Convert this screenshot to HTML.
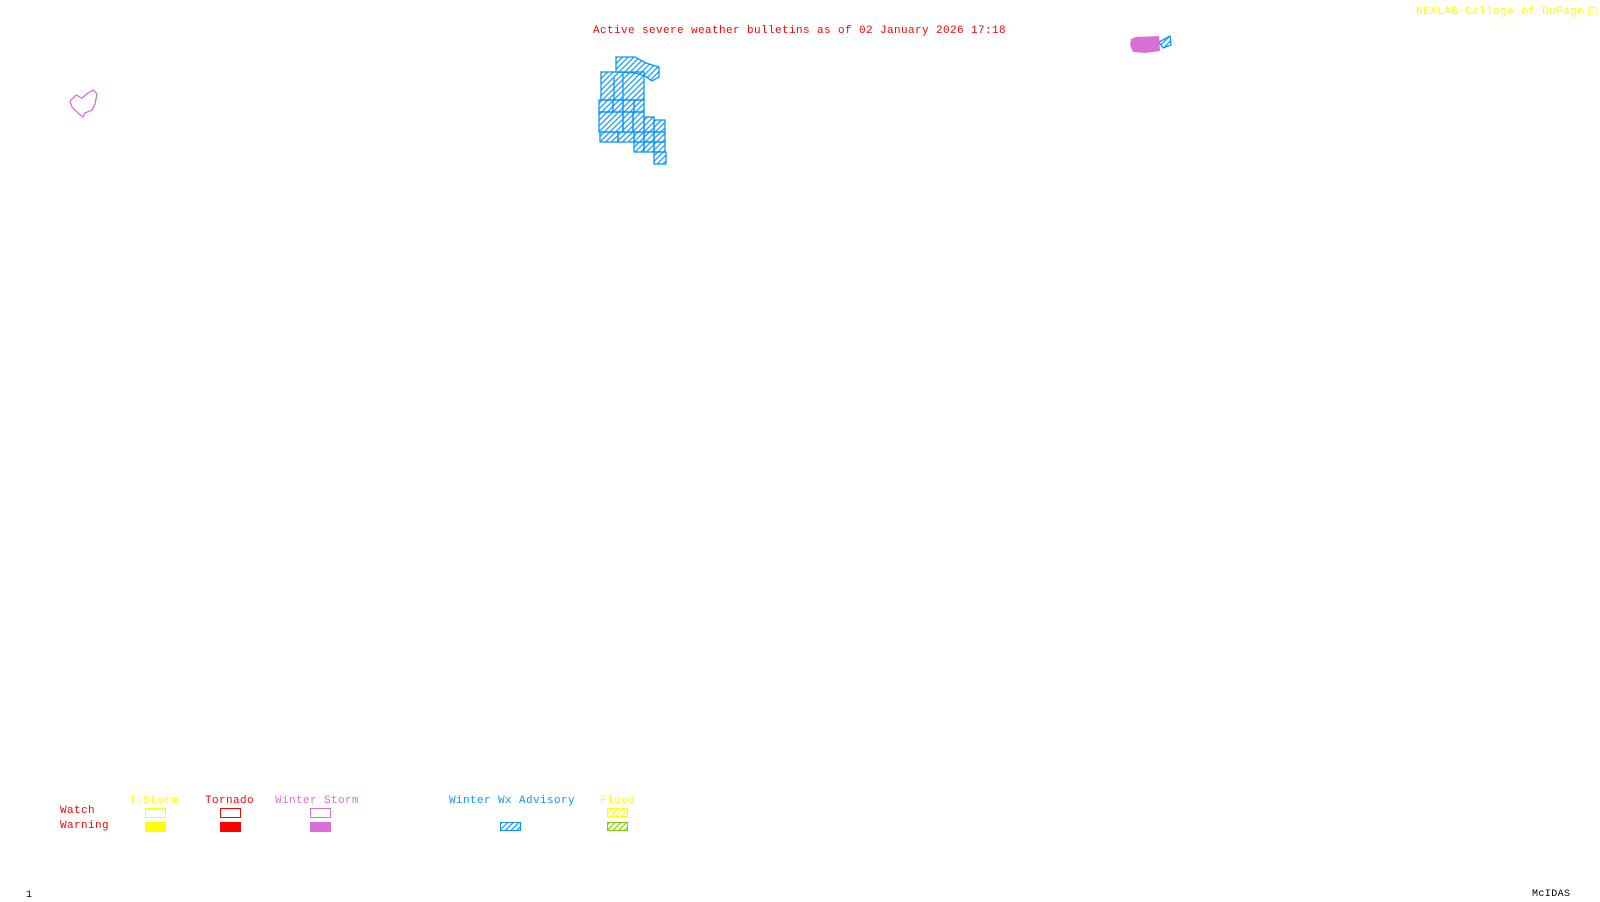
<!DOCTYPE html>
<html><head><meta charset="utf-8"><style>
body{margin:0;width:1600px;height:900px;background:#fff;position:relative;overflow:hidden;font-family:"Liberation Mono",monospace;font-size:11px;letter-spacing:0.4px}
.t{position:absolute;white-space:pre;line-height:12px}
.b{position:absolute;width:19px;height:8px;border:1px solid}
</style></head><body>
<svg width="1600" height="900" style="position:absolute;left:0;top:0">
<defs>
<pattern id="hb" width="4" height="4" patternUnits="userSpaceOnUse" patternTransform="rotate(45)"><rect width="1.2" height="4" fill="#0a96ff"/></pattern>
<pattern id="hy" width="4" height="4" patternUnits="userSpaceOnUse" patternTransform="rotate(45)"><rect width="1.2" height="4" fill="#ffff00"/></pattern>
<pattern id="hg" width="4" height="4" patternUnits="userSpaceOnUse" patternTransform="rotate(45)"><rect width="1.2" height="4" fill="#7fd000"/></pattern>
</defs>
<g stroke="#0a96ff" stroke-width="1.3" fill="url(#hb)">
<polygon points="616,57 635,57 646,63 659,67 659,77 652,81 645,76 635,73 616,72"/>
<rect x="601" y="72" width="43" height="28"/>
<line x1="614" y1="78" x2="614" y2="100"/><line x1="623" y1="74" x2="623" y2="100"/>
<rect x="599" y="100" width="14" height="12"/><rect x="613" y="100" width="10" height="12"/><rect x="623" y="100" width="11" height="12"/><rect x="634" y="100" width="10" height="12"/>
<rect x="599" y="112" width="24" height="20"/><rect x="623" y="112" width="10" height="20"/><rect x="633" y="112" width="11" height="20"/>
<rect x="644" y="117" width="10" height="15"/><rect x="654" y="120" width="11" height="12"/>
<rect x="600" y="132" width="18" height="10"/><rect x="618" y="132" width="16" height="10"/><rect x="634" y="132" width="10" height="10"/><rect x="644" y="132" width="10" height="10"/><rect x="654" y="132" width="11" height="10"/>
<rect x="634" y="142" width="10" height="10"/><rect x="644" y="142" width="10" height="10"/><rect x="654" y="142" width="11" height="10"/>
<rect x="654" y="152" width="12" height="12"/>
<polygon points="1159,42 1170,36 1171,45 1163,48"/>
</g>
<polygon points="1131,39 1136,37 1159,36 1160,51 1145,53 1133,52 1130,45" fill="#da70d6"/>
<polygon points="71,100 76,95 82,98 88,93 93,90 97,94 95,104 92,110 85,113 83,117 79,114 72,107 70,102" fill="none" stroke="#e060e0" stroke-width="1.2"/>
<rect x="607.5" y="808.5" width="20" height="8" fill="url(#hy)" stroke="#ffff00"/>
<rect x="607.5" y="822.5" width="20" height="8" fill="url(#hg)" stroke="#7fd000"/>
<rect x="500.5" y="822.5" width="20" height="8" fill="url(#hb)" stroke="#0a96ff"/>
</svg>
<div class="t" style="left:593px;top:25px;color:#ff0000">Active severe weather bulletins as of 02 January 2026 17:18</div>
<div class="t" style="left:1416px;top:6px;color:#ffff00">NEXLAB-College of DuPage</div>
<div class="t" style="left:1587px;top:6px;color:#ffff00">&#9712;</div>
<div class="t" style="left:129px;top:795px;color:#ffff00">T-Storm</div>
<div class="t" style="left:205px;top:795px;color:#ff0000">Tornado</div>
<div class="t" style="left:275px;top:795px;color:#da70d6">Winter Storm</div>
<div class="t" style="left:449px;top:795px;color:#0a96ff">Winter Wx Advisory</div>
<div class="t" style="left:600px;top:795px;color:#ffff00">Flood</div>
<div class="t" style="left:60px;top:805px;color:#ff0000">Watch</div>
<div class="t" style="left:60px;top:820px;color:#ff0000">Warning</div>
<div class="b" style="left:145px;top:808px;border-color:#ffff00"></div>
<div class="b" style="left:145px;top:822px;border-color:#ffff00;background:#ffff00"></div>
<div class="b" style="left:220px;top:808px;border-color:#ff0000"></div>
<div class="b" style="left:220px;top:822px;border-color:#ff0000;background:#ff0000"></div>
<div class="b" style="left:310px;top:808px;border-color:#da70d6"></div>
<div class="b" style="left:310px;top:822px;border-color:#da70d6;background:#da70d6"></div>
<div class="t" style="left:26px;top:890px;color:#000;font-size:10px">1</div>
<div class="t" style="left:1532px;top:889px;color:#000;font-size:10px">McIDAS</div>
</body></html>
